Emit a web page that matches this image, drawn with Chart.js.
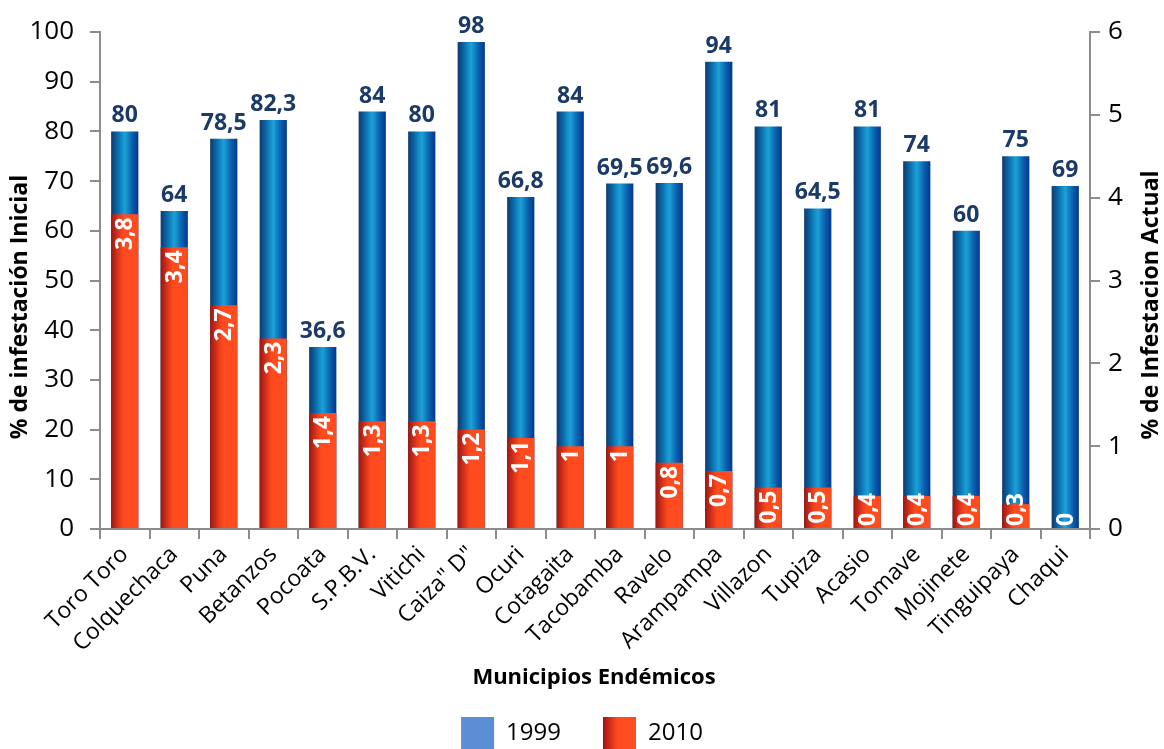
<!DOCTYPE html>
<html>
<head>
<meta charset="utf-8">
<script src="https://cdn.jsdelivr.net/npm/chart.js@4.4.1/dist/chart.umd.min.js"></script>
<style>
  html, body { margin: 0; padding: 0; background: #fff; }
  #wrap { width: 1164px; height: 749px; }
</style>
</head>
<body>
<div id="wrap"><canvas id="chart"></canvas></div>
<script>
const categories = ['Toro Toro', 'Colquechaca', 'Puna', 'Betanzos', 'Pocoata', 'S.P.B.V.', 'Vitichi', 'Caiza" D"',
  'Ocuri', 'Cotagaita', 'Tacobamba', 'Ravelo', 'Arampampa', 'Villazon', 'Tupiza', 'Acasio', 'Tomave',
  'Mojinete', 'Tinguipaya', 'Chaqui'];
const values1999 = [80, 64, 78.5, 82.3, 36.6, 84, 80, 98, 66.8, 84, 69.5, 69.6, 94, 81, 64.5, 81, 74, 60, 75, 69];
const values2010 = [3.8, 3.4, 2.7, 2.3, 1.4, 1.3, 1.3, 1.2, 1.1, 1, 1, 0.8, 0.7, 0.5, 0.5, 0.4, 0.4, 0.4, 0.3, 0];
const seriesNames = ['1999', '2010'];

const FONT = '"Open Sans", "Noto Sans", sans-serif';
const BAR_PCT = 0.55;

// comma as decimal separator, like the original
function fmt(v) { return String(v).replace('.', ','); }

// horizontal gradient per bar, built from the x scale
function barGradient(c, stops) {
  const chart = c.chart;
  const x = chart.scales.x;
  if (!x || !chart.chartArea) return stops[stops.length - 1][1];
  const cx = x.getPixelForValue(c.dataIndex);
  const w = x.width / categories.length * BAR_PCT;
  const g = chart.ctx.createLinearGradient(cx - w / 2, 0, cx + w / 2, 0);
  stops.forEach(s => g.addColorStop(s[0], s[1]));
  return g;
}
const blueStops = [[0, '#10396c'], [0.22, '#0a66a6'], [0.5, '#1aa2d8'], [0.78, '#0a5eab'], [1, '#04368f']];
const redStops = [[0, '#9c1612'], [0.3, '#e23a1c'], [0.45, '#ff4a1e'], [1, '#ff4d20']];

const valueLabels = {
  id: 'valueLabels',
  afterDatasetsDraw(chart) {
    const ctx = chart.ctx;
    const blue = chart.getDatasetMeta(0);
    const red = chart.getDatasetMeta(1);
    ctx.save();
    ctx.font = 'bold 23px ' + FONT;
    ctx.fillStyle = '#1b3a68';
    ctx.textAlign = 'center';
    ctx.textBaseline = 'bottom';
    blue.data.forEach((bar, i) => {
      ctx.fillText(fmt(values1999[i]), bar.x, bar.y - 4);
    });
    ctx.fillStyle = '#ffffff';
    ctx.textBaseline = 'middle';
    ctx.textAlign = 'right';
    const base = chart.scales.y1.getPixelForValue(0);
    red.data.forEach((bar, i) => {
      const txt = fmt(values2010[i]);
      const w = ctx.measureText(txt).width;
      let start = bar.y + 3;
      if (start + w > base - 3) start = base - 3 - w;
      ctx.save();
      ctx.translate(bar.x, start);
      ctx.rotate(-Math.PI / 2);
      ctx.fillText(txt, 0, 1);
      ctx.restore();
    });
    ctx.restore();
  }
};

// axis titles drawn by hand: both vertical ones read bottom-to-top
const axisTitles = {
  id: 'axisTitles',
  afterDraw(chart) {
    const ctx = chart.ctx;
    ctx.save();
    ctx.font = 'bold 23px ' + FONT;
    ctx.fillStyle = '#000';
    ctx.textAlign = 'center';
    ctx.textBaseline = 'middle';
    [[20, 307, '% de infestación Inicial'], [1151, 305, '% de Infestacion Actual']].forEach(t => {
      ctx.save();
      ctx.translate(t[0], t[1]);
      ctx.rotate(-Math.PI / 2);
      ctx.fillText(t[2], 0, 0);
      ctx.restore();
    });
    ctx.font = 'bold 22px ' + FONT;
    ctx.fillText('Municipios Endémicos', 594, 678);
    ctx.restore();
  }
};

// red legend swatch gets the same gradient as the bars
const legendSwatch = {
  id: 'legendSwatch',
  beforeDraw(chart) {
    const lg = chart.legend;
    if (!lg || !lg.legendHitBoxes || !lg.legendHitBoxes[1]) return;
    const hb = lg.legendHitBoxes[1];
    const bw = lg.options.labels.boxWidth;
    const g = chart.ctx.createLinearGradient(hb.left, 0, hb.left + bw, 0);
    redStops.forEach(s => g.addColorStop(s[0], s[1]));
    lg.legendItems[1].fillStyle = g;
  }
};

new Chart(document.getElementById('chart'), {
  type: 'bar',
  data: {
    labels: categories,
    datasets: [
      {
        label: seriesNames[0],
        data: values1999,
        yAxisID: 'y',
        order: 2,
        grouped: false,
        barPercentage: BAR_PCT,
        categoryPercentage: 1,
        backgroundColor: c => barGradient(c, blueStops)
      },
      {
        label: seriesNames[1],
        data: values2010,
        yAxisID: 'y1',
        order: 1,
        grouped: false,
        barPercentage: BAR_PCT,
        categoryPercentage: 1,
        backgroundColor: c => barGradient(c, redStops)
      }
    ]
  },
  options: {
    responsive: true,
    maintainAspectRatio: false,
    animation: false,
    layout: { padding: { top: 32, left: 0, right: 0, bottom: -11 } },
    plugins: {
      tooltip: { enabled: false },
      legend: {
        position: 'bottom',
        labels: {
          boxWidth: 33,
          boxHeight: 33,
          padding: 42,
          color: '#000',
          font: { family: FONT, size: 24 },
          generateLabels(chart) {
            return seriesNames.map((n, i) => ({
              text: n,
              fillStyle: i === 0 ? '#5a8fd5' : '#ff4a1e',
              strokeStyle: 'rgba(0,0,0,0)',
              lineWidth: 0,
              datasetIndex: i
            }));
          }
        }
      }
    },
    scales: {
      x: {
        grid: { drawOnChartArea: false, color: '#8c8c8c', lineWidth: 2, tickLength: 10, offset: true },
        border: { color: '#8c8c8c', width: 2 },
        ticks: {
          color: '#000',
          font: { family: FONT, size: 23 },
          minRotation: 45,
          maxRotation: 45,
          padding: 2,
          autoSkip: false
        },
        afterFit(s) { s.height = 146; }
      },
      y: {
        position: 'left',
        min: 0,
        max: 100,
        ticks: { stepSize: 10, color: '#000', font: { family: FONT, size: 26 }, padding: 16 },
        grid: { drawOnChartArea: false, color: '#8c8c8c', lineWidth: 2, tickLength: 10 },
        border: { color: '#8c8c8c', width: 2 },
        afterFit(s) { s.width = 100; }
      },
      y1: {
        position: 'right',
        min: 0,
        max: 6,
        ticks: { stepSize: 1, color: '#000', font: { family: FONT, size: 26 }, padding: 8 },
        grid: { drawOnChartArea: false, color: '#8c8c8c', lineWidth: 2, tickLength: 10 },
        border: { color: '#8c8c8c', width: 2 },
        afterFit(s) { s.width = 74; }
      }
    }
  },
  plugins: [valueLabels, axisTitles, legendSwatch]
});
</script>
</body>
</html>
